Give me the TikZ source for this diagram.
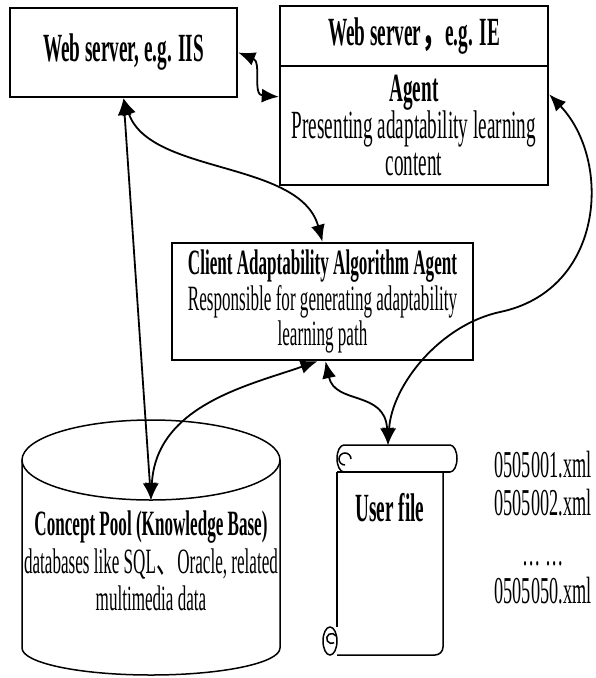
\documentclass[tikz,border=0pt]{standalone}
\usepackage{fontspec}
\setmainfont{Liberation Serif}[FakeStretch=0.48]
\newfontfamily\cjk{Noto Sans CJK SC}[FakeStretch=0.6]
\usetikzlibrary{arrows.meta}

\begin{document}
\begin{tikzpicture}[
  x=1pt, y=-1pt,
  bnode/.style={draw,rectangle,line width=2.4pt,inner sep=0pt,align=center},
  tnode/.style={inner sep=0pt,align=center},
  dlink/.style={{Latex[length=17pt,width=14pt]}-{Latex[length=17pt,width=14pt]},line width=1.8pt},
  bigtxt/.style={font=\fontsize{40}{37}\selectfont},
  smalltxt/.style={font=\fontsize{35.6}{35.5}\selectfont},
  outline/.style={line width=1.5pt}
]
  \useasboundingbox (0,0) rectangle (595,678);

  % servers
  \node[bnode,bigtxt,minimum width=227pt,minimum height=89pt] (iis) at (123.5,52.5) {\bfseries Web server, e.g. IIS};
  \node[bnode,bigtxt,minimum width=268pt,minimum height=60pt] (ie) at (414,36) {\bfseries Web server{\cjk ，}e.g. IE};
  \node[bnode,bigtxt,minimum width=268pt,minimum height=119pt] (agent) at (414,125.5) {{\bfseries Agent}\\Presenting adaptability learning\\content};

  % client agent
  \node[bnode,smalltxt,minimum width=301pt,minimum height=117pt] (caa) at (322.5,301.5) {{\bfseries Client Adaptability Algorithm Agent}\\Responsible for generating adaptability\\learning path};

  % concept pool
  \draw[outline] (22,460) -- (22,648) arc[start angle=180,end angle=0,x radius=129,y radius=27] -- (280,460);
  \draw[outline] (151,460) ellipse[x radius=129,y radius=40];
  \coordinate (pooltop) at (151,500);
  \node[tnode,font=\fontsize{35.6}{37.5}\selectfont] (pool) at (151,561) {{\bfseries Concept Pool (Knowledge Base)}\\databases like SQL{\cjk 、}Oracle, related\\multimedia data};

  % user file
  \draw[outline] (344,472) -- (450,472) arc[start angle=90,end angle=-90,x radius=7,y radius=13.5]
    -- (344,445) arc[start angle=-90,end angle=-270,x radius=7,y radius=13.5];
  \draw[line width=2.4pt] (337,472) -- (450,472);
  \draw[outline] (351,459) arc[start angle=0,end angle=-270,radius=6];
  \draw[outline] (337,472) -- (337,627);
  \draw[outline] (337,655) -- (435,655) arc[start angle=90,end angle=0,radius=8] -- (443,472);
  \draw[outline] (330,641) ellipse[x radius=7,y radius=14];
  \draw[outline] (336,636) arc[start angle=-30,end angle=-300,radius=5];
  \coordinate (ufiletop) at (388,445);
  \node[tnode,bigtxt] (ufile) at (390,508) {\bfseries User file};

  % xml files
  \node[tnode,font=\fontsize{38}{38}\selectfont] (xmls) at (543,528) {0505001.xml\\0505002.xml\\[12pt]… …\\[0pt]0505050.xml};

  % edges
  \draw[dlink] (iis.east) .. controls (262,62) and (252,95) .. (agent.168);
  \draw[dlink] (iis.south) .. controls (150,175) and (300,160) .. (caa.north);
  \draw[dlink] (iis.south) -- (pooltop);
  \draw[dlink] (pooltop) .. controls (156,405) and (250,385) .. ([xshift=-5pt]caa.south);
  \draw[dlink] ([xshift=3pt]caa.south) .. controls (335,405) and (385,390) .. (ufiletop);
  \draw[dlink] (agent.13) .. controls (612,160) and (605,290) .. (500,312)
    .. controls (440,325) and (392,385) .. (ufiletop);
\end{tikzpicture}
\end{document}
